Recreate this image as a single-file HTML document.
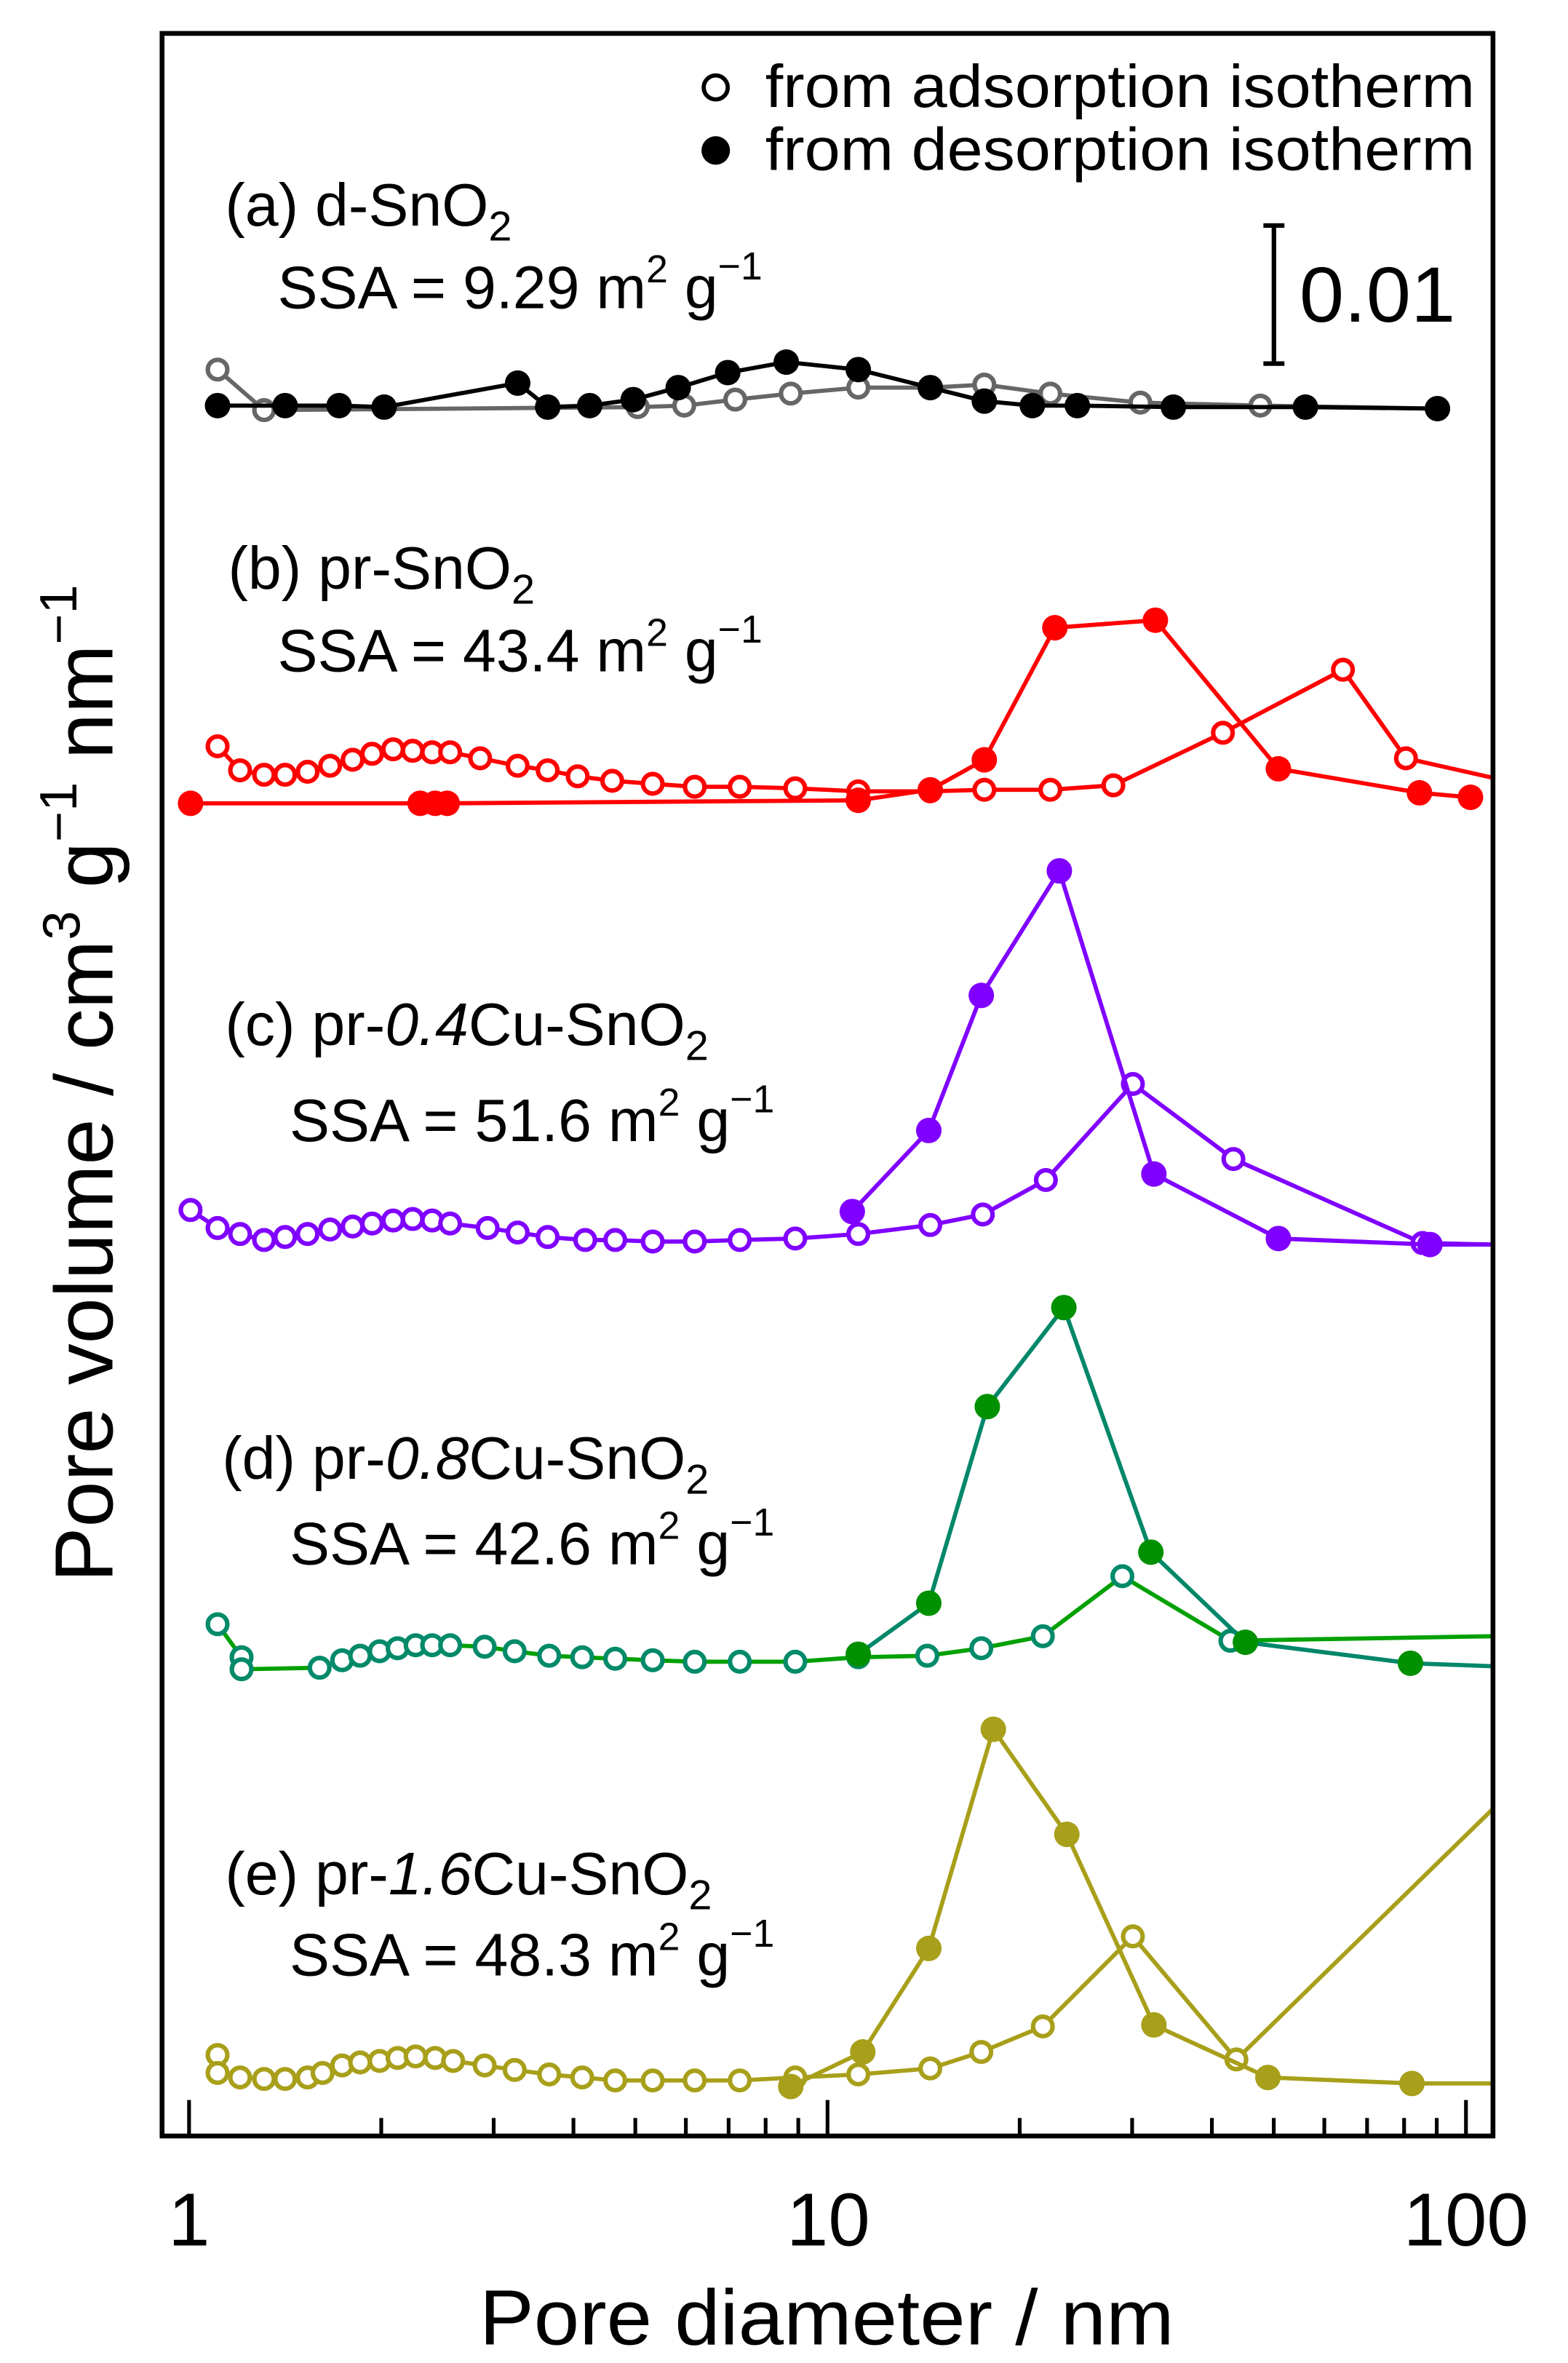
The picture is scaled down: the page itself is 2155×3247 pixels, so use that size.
<!DOCTYPE html>
<html><head><meta charset="utf-8"><style>html,body{margin:0;padding:0;background:#fff}svg{display:block}text{font-family:"Liberation Sans",sans-serif;fill:#000}</style></head>
<body>
<svg id="s" width="2155" height="3247" viewBox="0 0 1045 1574" xmlns="http://www.w3.org/2000/svg">
<rect x="0" y="0" width="1045" height="1574" fill="#fff"/>
<g id="plot"></g>
<rect x="108" y="22" width="887" height="1401" fill="none" stroke="#000" stroke-width="3.2"/>
<g id="ticks" stroke="#000" stroke-width="2.5"></g>
<circle cx="477" cy="58" r="8" fill="none" stroke="#000" stroke-width="2.8"/>
<circle cx="477" cy="100" r="9.5" fill="#000"/>
<text x="510" y="71" font-size="40" textLength="473" lengthAdjust="spacingAndGlyphs">from adsorption isotherm</text>
<text x="510" y="113" font-size="40" textLength="473" lengthAdjust="spacingAndGlyphs">from desorption isotherm</text>
<g stroke="#000" stroke-width="3"><line x1="849" y1="150" x2="849" y2="242"/><line x1="842" y1="150" x2="856" y2="150"/><line x1="842" y1="242" x2="856" y2="242"/></g>
<text x="866" y="214" font-size="52" textLength="104" lengthAdjust="spacingAndGlyphs">0.01</text>
<g font-size="40">
<text x="150" y="150">(a) d-SnO<tspan font-size="28" dy="10">2</tspan></text>
<text x="185" y="205">SSA = 9.29 m<tspan font-size="26" dy="-17">2</tspan><tspan dy="17"> g</tspan><tspan font-size="26" dy="-19">−1</tspan></text>
<text x="152" y="392">(b) pr-SnO<tspan font-size="28" dy="10">2</tspan></text>
<text x="185" y="447">SSA = 43.4 m<tspan font-size="26" dy="-17">2</tspan><tspan dy="17"> g</tspan><tspan font-size="26" dy="-19">−1</tspan></text>
<text x="150" y="696">(c) pr-<tspan font-style="italic">0.4</tspan>Cu-SnO<tspan font-size="28" dy="10">2</tspan></text>
<text x="193" y="760">SSA = 51.6 m<tspan font-size="26" dy="-17">2</tspan><tspan dy="17"> g</tspan><tspan font-size="26" dy="-19">−1</tspan></text>
<text x="148" y="985">(d) pr-<tspan font-style="italic">0.8</tspan>Cu-SnO<tspan font-size="28" dy="10">2</tspan></text>
<text x="193" y="1042">SSA = 42.6 m<tspan font-size="26" dy="-17">2</tspan><tspan dy="17"> g</tspan><tspan font-size="26" dy="-19">−1</tspan></text>
<text x="150" y="1262">(e) pr-<tspan font-style="italic">1.6</tspan>Cu-SnO<tspan font-size="28" dy="10">2</tspan></text>
<text x="193" y="1316">SSA = 48.3 m<tspan font-size="26" dy="-17">2</tspan><tspan dy="17"> g</tspan><tspan font-size="26" dy="-19">−1</tspan></text>
</g>
<g font-size="50" text-anchor="middle">
<text x="126" y="1496">1</text><text x="552" y="1496">10</text><text x="977" y="1496">100</text>
</g>
<text x="551" y="1562" font-size="52" text-anchor="middle" textLength="463" lengthAdjust="spacingAndGlyphs">Pore diameter / nm</text>
<text transform="translate(75,1054) rotate(-90)" font-size="55">Pore volume / cm<tspan font-size="35" dy="-22">3</tspan><tspan dy="22"> g</tspan><tspan font-size="35" dy="-24">−1</tspan><tspan dy="24"> nm</tspan><tspan font-size="35" dy="-24">−1</tspan></text>
</svg>
<script>
var NS="http://www.w3.org/2000/svg";
function X(d){return 126+425.5*Math.log10(d);}
var t=document.getElementById("ticks");
for(var e=0;e<3;e++)for(var k=1;k<10;k++){var d=Math.pow(10,e)*k;if(d>110)break;var x=X(d);if(x>994)continue;var L=(k==1)?24:12;var l=document.createElementNS(NS,"line");l.setAttribute("x1",x);l.setAttribute("x2",x);l.setAttribute("y1",1423);l.setAttribute("y2",1423-L);t.appendChild(l);}
var g=document.getElementById("plot");
function series(pts,lc,mc,open){var p=document.createElementNS(NS,"polyline");p.setAttribute("points",pts.map(function(a){return a.join(",")}).join(" "));p.setAttribute("fill","none");p.setAttribute("stroke",lc);p.setAttribute("stroke-width","2.8");g.appendChild(p);
pts.forEach(function(a){if(a[0]>=994)return;var c=document.createElementNS(NS,"circle");c.setAttribute("cx",a[0]);c.setAttribute("cy",a[1]);if(open){c.setAttribute("r",6.5);c.setAttribute("fill","#fff");c.setAttribute("stroke",mc);c.setAttribute("stroke-width","3");}else{c.setAttribute("r",8.5);c.setAttribute("fill",mc);}g.appendChild(c);});}
series([[145,246],[176,273],[425,271],[456,270],[490,266],[527,262],[572,258],[620,258],[656,256],[700,262],[760,268],[840,270],[958,272]],"#666","#666",true);
series([[145,270],[190,270],[226,270],[256,271],[345,255],[365,271],[393,270],[422,266],[452,258],[485,248],[524,241],[572,246],[620,258],[656,267],[688,270],[718,270],[782,271],[870,271],[958,272]],"#000","#000",false);
series([[145,497],[160,513],[176,516],[190,516],[205,514],[220,510],[235,506],[248,502],[262,499],[275,500],[288,501],[300,501],[320,505],[345,510],[365,513],[385,517],[408,520],[435,522],[463,524],[493,524],[530,525],[572,527],[620,527],[656,526],[700,526],[742,523],[815,488],[895,446],[937,505],[995,518]],"#f00","#f00",true);
series([[127,535],[280,535],[290,535],[298,535],[572,533],[620,526],[656,506],[703,418],[770,413],[852,512],[946,528],[980,531]],"#f00","#f00",false);
series([[127,806],[145,818],[160,822],[176,826],[190,824],[205,822],[220,819],[235,817],[248,815],[262,813],[275,812],[288,813],[300,815],[325,818],[345,821],[365,824],[390,826],[410,826],[435,827],[463,827],[493,826],[530,825],[572,822],[620,816],[655,809],[697,786],[755,722],[822,772],[948,828],[995,829]],"#8000ff","#8000ff",true);
series([[568,807],[619,753],[654,663],[706,580],[769,782],[852,825],[953,829],[995,829]],"#8000ff","#8000ff",false);
series([[145,1082],[161,1104],[161,1112],[213,1111],[228,1106],[240,1103],[253,1100],[265,1098],[277,1096],[288,1096],[300,1096],[323,1097],[343,1100],[366,1103],[388,1104],[410,1105],[435,1106],[463,1107],[493,1107],[530,1107],[572,1104],[618,1103],[654,1098],[695,1090],[748,1050],[820,1093],[995,1090]],"#00a000","#008a6a",true);
series([[572,1102],[619,1068],[658,937],[709,871],[767,1034],[830,1094],[940,1108],[995,1110]],"#00876a","#009000",false);
series([[145,1369],[145,1381],[160,1384],[176,1385],[190,1385],[205,1384],[215,1381],[228,1376],[240,1374],[253,1373],[265,1371],[277,1370],[290,1371],[302,1373],[323,1376],[343,1379],[366,1382],[388,1384],[410,1386],[435,1386],[463,1386],[493,1386],[530,1384],[572,1382],[620,1378],[654,1367],[695,1350],[755,1290],[824,1372],[995,1205]],"#a89f1a","#a89f1a",true);
series([[527,1390],[575,1367],[619,1298],[662,1152],[711,1222],[769,1349],[845,1384],[941,1388],[995,1388]],"#a89f1a","#a89f1a",false);
</script>
</body></html>
